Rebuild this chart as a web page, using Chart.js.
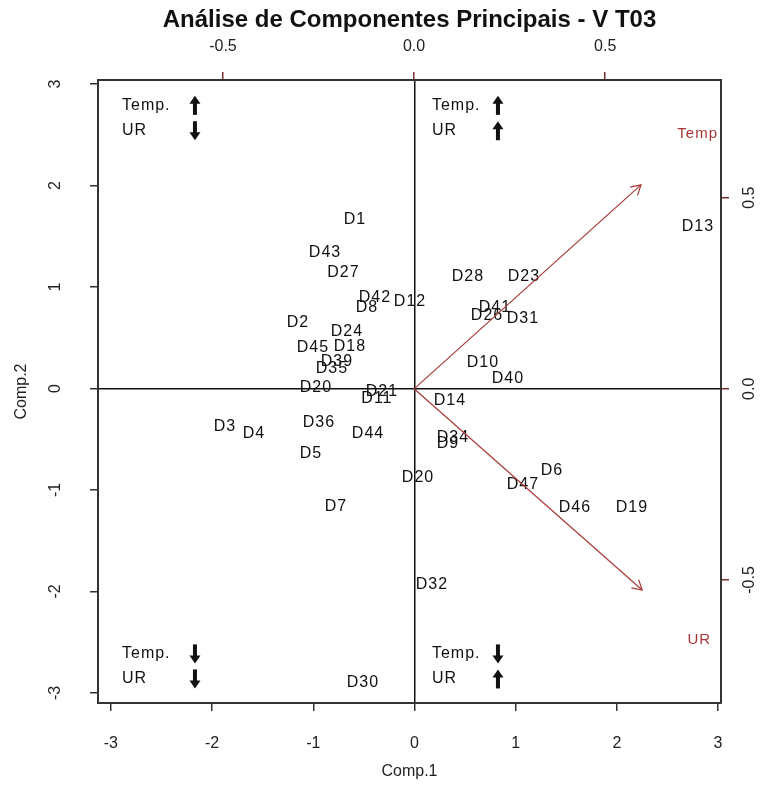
<!DOCTYPE html>
<html><head><meta charset="utf-8">
<script src="https://cdn.jsdelivr.net/npm/chart.js@4/dist/chart.umd.min.js"></script>
<style>html,body{margin:0;padding:0;background:#fff}#wrap{width:771px;height:796px}</style>
</head><body><div id="wrap"><canvas id="c" width="771" height="796"></canvas></div>
<script>
// ---- data ----
const obsLabels = ['D1','D43','D27','D42','D8','D12','D2','D24','D45','D18','D39','D35','D20','D21','D11','D14','D36','D44','D34','D9','D5','D20','D3','D4','D7','D28','D23','D41','D26','D31','D10','D40','D6','D47','D46','D19','D13','D32','D30'];
const comp1 = [-0.588,-0.884,-0.702,-0.390,-0.469,-0.044,-1.151,-0.667,-1.003,-0.637,-0.766,-0.815,-0.973,-0.321,-0.371,0.351,-0.944,-0.459,0.380,0.331,-1.023,0.035,-1.873,-1.586,-0.776,0.529,1.082,0.795,0.717,1.072,0.677,0.924,1.359,1.072,1.586,2.149,2.801,0.173,-0.509];
const comp2 = [1.668,1.343,1.145,0.898,0.800,0.859,0.652,0.563,0.405,0.415,0.267,0.197,0.010,-0.030,-0.099,-0.118,-0.336,-0.444,-0.484,-0.543,-0.642,-0.879,-0.375,-0.444,-1.165,1.106,1.106,0.800,0.720,0.691,0.257,0.099,-0.809,-0.948,-1.175,-1.175,1.599,-1.935,-2.902];
const varNames = ['Temp','UR'];
const load1 = [0.742, 0.746];
const load2 = [0.667, -0.658];
const xTicks = [-3,-2,-1,0,1,2,3];
const yTicks = [-3,-2,-1,0,1,2,3];
const x2Ticks = [-0.5,0,0.5];
const y2Ticks = [-0.5,0,0.5];
const quadTextX = [-2.89, 0.173, -2.89, 0.173];
const quadArrowX = [-2.169, 0.825, -2.169, 0.825];
const quadTempY = [2.79, 2.79, -2.616, -2.616];
const quadURY = [2.54, 2.54, -2.863, -2.863];
const quadTempDir = [1, 1, -1, -1];
const quadURDir = [-1, 1, -1, 1];
const titleText = 'Análise de Componentes Principais - V T03';

const FONT = "'Liberation Sans', Arial, sans-serif";
const RED = '#a83838';

function fixTicks(arr){ return s => { s.ticks = arr.map(v => ({value: v})); }; }

function drawBlockArrow(ctx, cx, cy, dir){
  const L = 19, headH = 8, headW = 11, shaftW = 4;
  const tipY = cy - dir * L / 2, baseY = cy + dir * L / 2;
  ctx.beginPath();
  ctx.moveTo(cx, tipY);
  ctx.lineTo(cx - headW/2, tipY + dir*headH);
  ctx.lineTo(cx + headW/2, tipY + dir*headH);
  ctx.closePath();
  ctx.fill();
  const y1 = tipY + dir*(headH - 1);
  ctx.fillRect(cx - shaftW/2, Math.min(y1, baseY), shaftW, Math.abs(baseY - y1));
}

const overlay = {
  id: 'overlay',
  afterDatasetsDraw(chart){
    const ctx = chart.ctx;
    const {x, y, x2, y2} = chart.scales;
    ctx.save();
    ctx.letterSpacing = '1px';
    ctx.font = '16px ' + FONT;
    ctx.fillStyle = '#111';
    ctx.textAlign = 'center';
    ctx.textBaseline = 'middle';
    const meta = chart.getDatasetMeta(0);
    meta.data.forEach((el, i) => ctx.fillText(obsLabels[i], el.x, el.y));
    ctx.strokeStyle = RED; ctx.fillStyle = RED; ctx.lineWidth = 1.2;
    const ox = x2.getPixelForValue(0), oy = y2.getPixelForValue(0);
    varNames.forEach((n, i) => {
      const tx = x2.getPixelForValue(load1[i]*0.8), ty = y2.getPixelForValue(load2[i]*0.8);
      ctx.beginPath(); ctx.moveTo(ox, oy); ctx.lineTo(tx, ty); ctx.stroke();
      const ang = Math.atan2(ty - oy, tx - ox), h = 11;
      ctx.beginPath();
      ctx.moveTo(tx - h*Math.cos(ang - Math.PI/6), ty - h*Math.sin(ang - Math.PI/6));
      ctx.lineTo(tx, ty);
      ctx.lineTo(tx - h*Math.cos(ang + Math.PI/6), ty - h*Math.sin(ang + Math.PI/6));
      ctx.stroke();
      ctx.font = '15px ' + FONT;
      ctx.fillText(n, x2.getPixelForValue(load1[i]), y2.getPixelForValue(load2[i]));
    });
    ctx.fillStyle = '#111';
    ctx.font = '16px ' + FONT;
    ctx.textAlign = 'left';
    quadTextX.forEach((qx, i) => {
      const px = x.getPixelForValue(qx);
      ctx.fillText('Temp.', px, y.getPixelForValue(quadTempY[i]));
      ctx.fillText('UR', px, y.getPixelForValue(quadURY[i]));
      const ax = x.getPixelForValue(quadArrowX[i]);
      drawBlockArrow(ctx, ax, y.getPixelForValue(quadTempY[i]), quadTempDir[i]);
      drawBlockArrow(ctx, ax, y.getPixelForValue(quadURY[i]), quadURDir[i]);
    });
    ctx.restore();
  }
};

const zeroGrid = (tc) => ({
  drawOnChartArea: true,
  color: c => (c.tick && c.tick.value === 0) ? '#111' : 'rgba(0,0,0,0)',
  tickColor: tc, tickLength: 8, lineWidth: 1.5
});
const borderOpt = {display: true, color: '#333', width: 2};
const tickFont = {size: 16, family: FONT};

new Chart(document.getElementById('c'), {
  type: 'scatter',
  data: {
    datasets: [{
      data: comp1.map((v, i) => ({x: v, y: comp2[i]})),
      pointRadius: 0, pointHoverRadius: 0, xAxisID: 'x', yAxisID: 'y'
    }]
  },
  options: {
    responsive: false, animation: false, events: [], devicePixelRatio: 1,
    layout: {padding: 0},
    plugins: {legend: {display: false}, tooltip: {enabled: false}, title: {display: false}},
    scales: {
      x: {
        type: 'linear', position: 'bottom', min: -3.127, max: 3.029,
        afterBuildTicks: fixTicks(xTicks), afterFit: s => { s.height = 93; },
        ticks: {callback: v => String(v), font: tickFont, color: '#222', padding: 23, maxRotation: 0, autoSkip: false},
        grid: zeroGrid('#333'), border: borderOpt,
        title: {display: true, text: 'Comp.1', font: {size: 16, family: FONT}, color: '#222', padding: {top: 0, bottom: 15}}
      },
      x2: {
        type: 'linear', position: 'top', min: -0.827, max: 0.803,
        afterBuildTicks: fixTicks(x2Ticks), afterFit: s => { s.height = 80; },
        ticks: {callback: v => v.toFixed(1), font: tickFont, color: '#222', padding: 16, maxRotation: 0, autoSkip: false},
        grid: {drawOnChartArea: false, tickColor: '#7a3030', tickLength: 8, lineWidth: 1.5}, border: borderOpt,
        title: {display: true, text: titleText, font: {size: 24, weight: 'bold', family: FONT}, color: '#111', padding: {top: 6, bottom: 0}}
      },
      y: {
        type: 'linear', position: 'left', min: -3.10, max: 3.04,
        afterBuildTicks: fixTicks(yTicks), afterFit: s => { s.width = 98; },
        ticks: {callback: v => String(v), font: tickFont, color: '#222', padding: 27, minRotation: 90, maxRotation: 90, crossAlign: 'center', autoSkip: false},
        grid: zeroGrid('#333'), border: borderOpt,
        title: {display: true, text: 'Comp.2', font: {size: 16, family: FONT}, color: '#222', padding: {top: 12, bottom: 0}}
      },
      y2: {
        type: 'linear', position: 'right', min: -0.822, max: 0.808,
        afterBuildTicks: fixTicks(y2Ticks), afterFit: s => { s.width = 50; },
        ticks: {callback: v => v.toFixed(1), font: tickFont, color: '#222', padding: 7, minRotation: 90, maxRotation: 90, crossAlign: 'center', autoSkip: false},
        grid: {drawOnChartArea: false, tickColor: '#7a3030', tickLength: 8, lineWidth: 1.5}, border: borderOpt
      }
    }
  },
  plugins: [overlay]
});
</script>
</body></html>
